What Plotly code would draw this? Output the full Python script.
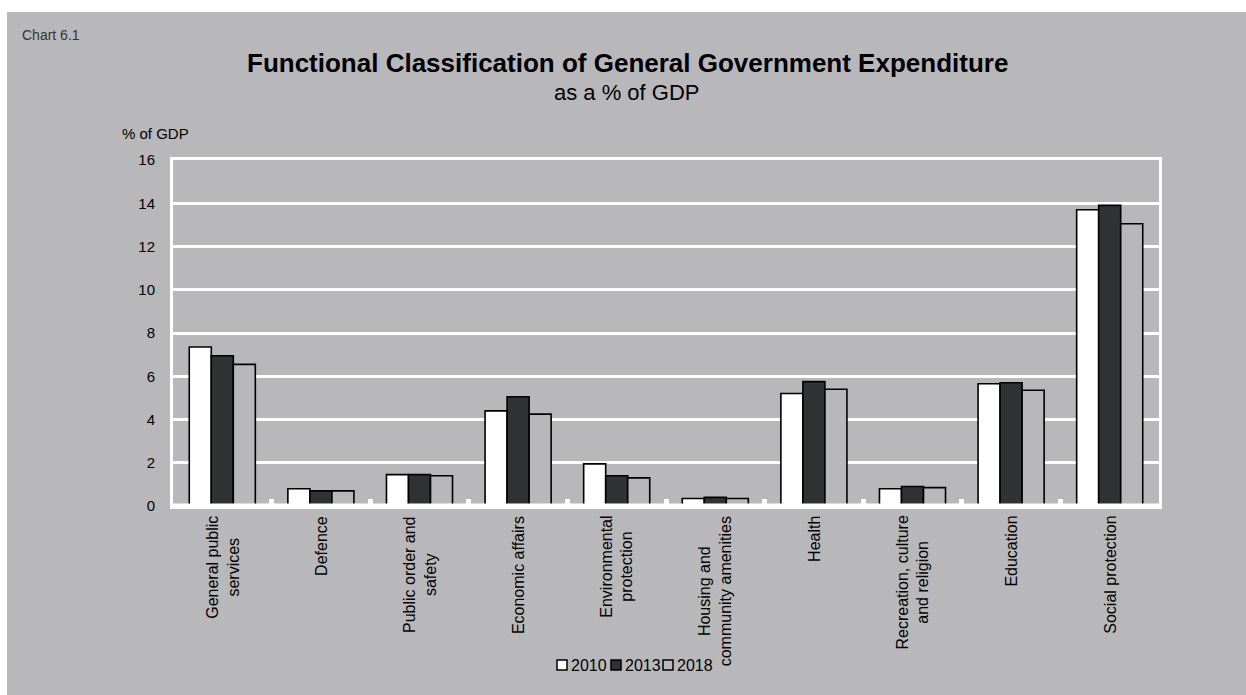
import plotly.graph_objects as go

# Functional classification of general government expenditure, % of GDP
categories = [
    "General public<br>services",
    "Defence",
    "Public order and<br>safety",
    "Economic affairs",
    "Environmental<br>protection",
    "Housing and<br>community amenities",
    "Health",
    "Recreation, culture<br>and religion",
    "Education",
    "Social protection",
]
years = ["2010", "2013", "2018"]
values_2010 = [7.35, 0.8, 1.45, 4.4, 1.95, 0.35, 5.2, 0.8, 5.65, 13.7]
values_2013 = [6.95, 0.7, 1.45, 5.05, 1.4, 0.4, 5.75, 0.9, 5.7, 13.9]
values_2018 = [6.55, 0.7, 1.4, 4.25, 1.3, 0.35, 5.4, 0.85, 5.35, 13.05]
y_ticks = [0, 2, 4, 6, 8, 10, 12, 14, 16]

BG = "#b8b8bb"
DARK = "#313234"
FONT = "Liberation Sans, Arial, sans-serif"
fills = ["#ffffff", DARK, BG]

W, H = 1246, 695
L, R, T, B = 173, 87, 160, 189
PW, PH = W - L - R, H - T - B


def px_x(px):
    return (px - L) / PW


def px_y(py):
    return (H - B - py) / PH


fig = go.Figure()
for name, vals, col in zip(years, [values_2010, values_2013, values_2018], fills):
    fig.add_trace(go.Bar(
        x=categories, y=vals, name=name,
        marker=dict(color=col, line=dict(color="#000000", width=1.6)),
        showlegend=False,
    ))

shapes = [
    # grey panel with a thin white strip on the top and left
    dict(type="rect", xref="paper", yref="paper", layer="below",
         x0=px_x(7), x1=px_x(W + 10), y0=px_y(H + 10), y1=px_y(12),
         fillcolor=BG, line=dict(width=0)),
    # heavy white baseline
    dict(type="line", xref="paper", yref="y", layer="above",
         x0=0, x1=1, y0=0, y1=0, line=dict(color="white", width=5)),
]

annotations = [
    dict(text="Chart 6.1", x=px_x(20), y=px_y(35), xref="paper", yref="paper",
         xanchor="left", yanchor="middle", showarrow=False,
         font=dict(family=FONT, size=14, color="#333333")),
    dict(text="<b>Functional Classification of General Government Expenditure</b>",
         x=px_x(627), y=px_y(63), xref="paper", yref="paper",
         xanchor="center", yanchor="middle", showarrow=False,
         font=dict(family=FONT, size=26, color="#000000")),
    dict(text="as a % of GDP", x=px_x(627), y=px_y(93), xref="paper", yref="paper",
         xanchor="center", yanchor="middle", showarrow=False,
         font=dict(family=FONT, size=22, color="#000000")),
    dict(text="% of GDP", x=px_x(155), y=px_y(133), xref="paper", yref="paper",
         xanchor="center", yanchor="middle", showarrow=False,
         font=dict(family=FONT, size=15, color="#000000")),
]

# rotated category labels, lines centred on each other
for lab in categories:
    annotations.append(dict(
        text=lab, x=lab, y=px_y(514), xref="x", yref="paper",
        xanchor="center", yanchor="top", textangle=-90, align="center",
        showarrow=False, font=dict(family=FONT, size=16, color="#000000"),
    ))

# compact legend below the labels
legend_starts = [557, 611, 663]
for x0, name, col in zip(legend_starts, years, fills):
    shapes.append(dict(type="rect", xref="paper", yref="paper",
                       x0=px_x(x0), x1=px_x(x0 + 10), y0=px_y(670), y1=px_y(660),
                       fillcolor=col, line=dict(color="#000000", width=1.5)))
    annotations.append(dict(text=name, x=px_x(x0 + 12), y=px_y(665),
                            xref="paper", yref="paper", xanchor="left",
                            yanchor="middle", showarrow=False,
                            font=dict(family=FONT, size=16, color="#000000")))

fig.update_layout(
    width=W, height=H,
    margin=dict(l=L, r=R, t=T, b=B, pad=0),
    paper_bgcolor="white",
    plot_bgcolor=BG,
    barmode="group",
    bargap=0.33,
    bargroupgap=0,
    font=dict(family=FONT, size=15, color="#000000"),
    shapes=shapes,
    annotations=annotations,
    xaxis=dict(
        type="category", categoryorder="array", categoryarray=categories,
        showticklabels=False,
        ticks="inside", tickson="boundaries", ticklen=7, tickwidth=5,
        tickcolor="white",
        showgrid=False, zeroline=False,
        showline=True, linecolor="white", linewidth=3, mirror=True,
    ),
    yaxis=dict(
        range=[0, 16], tickmode="array", tickvals=y_ticks,
        ticktext=[str(v) for v in y_ticks],
        showgrid=True, gridcolor="white", gridwidth=3,
        zeroline=False, ticks="", ticklabelstandoff=12,
        showline=True, linecolor="white", linewidth=3, mirror=True,
        tickfont=dict(family=FONT, size=15, color="#000000"),
    ),
)

fig.write_html("out.html")
